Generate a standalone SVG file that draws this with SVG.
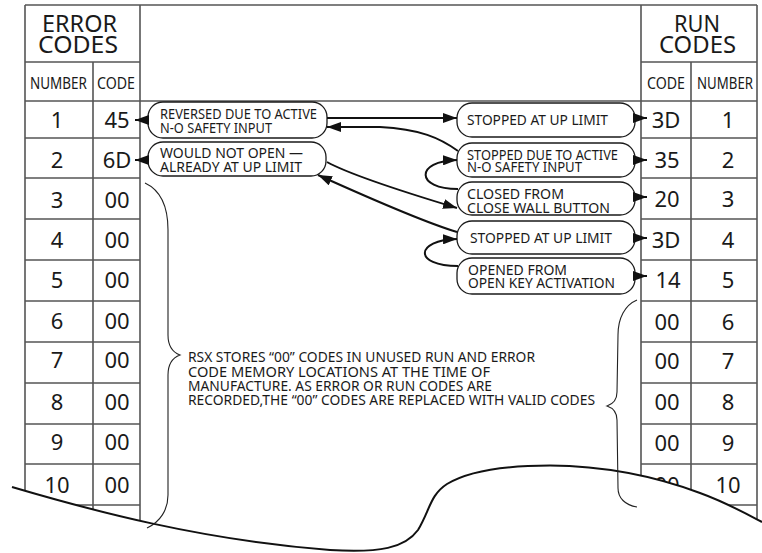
<svg xmlns="http://www.w3.org/2000/svg" width="762" height="553" viewBox="0 0 762 553">
<style>
.t{font-family:"Noto Sans","Liberation Sans",sans-serif;fill:#1a1a1a}
.num{font-size:22px;text-anchor:middle}
.hdr{font-size:24px}
.sub{font-size:16.5px}
.bt{font-size:13.5px}
.pt{font-size:14px}
.box{fill:#fff;stroke:#1a1a1a;stroke-width:1.3}
.grid{stroke:#555;stroke-width:1.6;fill:none}
.con{stroke:#111;stroke-width:2;fill:none}
.brace{stroke:#222;stroke-width:1.1;fill:none}
</style>
<defs>
<marker id="ah" markerUnits="userSpaceOnUse" markerWidth="14" markerHeight="10" refX="14" refY="5" orient="auto">
<path d="M0,0 L14,5 L0,10 z" fill="#111"/>
</marker>
</defs>
<rect width="762" height="553" fill="#fff"/>

<g id="frame" class="grid">
<path d="M25,5 H757 M25,101 H757"/>
</g>

<g id="error-table">
<g class="grid">
<path d="M25,5 V553 M93,62 V553 M140,5 V553"/>
<path d="M25,62 H140 M25,138 H140 M25,178 H140 M25,219 H140 M25,260 H140 M25,301 H140 M25,342 H140 M25,383 H140 M25,424 H140 M25,464 H140 M25,505 H140"/>
</g>
<text class="t hdr" x="42" y="32" textLength="75" lengthAdjust="spacingAndGlyphs">ERROR</text>
<text class="t hdr" x="38" y="53" textLength="80" lengthAdjust="spacingAndGlyphs">CODES</text>
<text class="t sub" x="30" y="89" textLength="57" lengthAdjust="spacingAndGlyphs">NUMBER</text>
<text class="t sub" x="97" y="89" textLength="38" lengthAdjust="spacingAndGlyphs">CODE</text>
<g class="t num">
<text x="57" y="128">1</text><text x="117" y="128">45</text>
<text x="57" y="168">2</text><text x="117" y="168">6D</text>
<text x="57" y="208">3</text><text x="117" y="208">00</text>
<text x="57" y="248">4</text><text x="117" y="248">00</text>
<text x="57" y="288">5</text><text x="117" y="288">00</text>
<text x="57" y="329">6</text><text x="117" y="329">00</text>
<text x="57" y="368">7</text><text x="117" y="368">00</text>
<text x="57" y="410">8</text><text x="117" y="410">00</text>
<text x="57" y="450">9</text><text x="117" y="450">00</text>
<text x="57" y="493">10</text><text x="117" y="493">00</text>
</g>
</g>

<g id="run-table">
<g class="grid">
<path d="M641,5 V553 M691,62 V553 M757,5 V553"/>
<path d="M641,62 H757 M641,138 H757 M641,178 H757 M641,219 H757 M641,260 H757 M641,301 H757 M641,342 H757 M641,383 H757 M641,424 H757 M641,464 H757 M641,505 H757"/>
</g>
<text class="t hdr" x="674" y="32" textLength="46" lengthAdjust="spacingAndGlyphs">RUN</text>
<text class="t hdr" x="659" y="53" textLength="77" lengthAdjust="spacingAndGlyphs">CODES</text>
<text class="t sub" x="647" y="89" textLength="38" lengthAdjust="spacingAndGlyphs">CODE</text>
<text class="t sub" x="697" y="89" textLength="56" lengthAdjust="spacingAndGlyphs">NUMBER</text>
<g class="t num">
<text x="666" y="128">3D</text><text x="728" y="128">1</text>
<text x="667" y="168">35</text><text x="728" y="168">2</text>
<text x="667" y="207">20</text><text x="728" y="207">3</text>
<text x="666" y="248">3D</text><text x="728" y="248">4</text>
<text x="668" y="288">14</text><text x="728" y="288">5</text>
<text x="667" y="330">00</text><text x="728" y="330">6</text>
<text x="667" y="369">00</text><text x="728" y="369">7</text>
<text x="667" y="410">00</text><text x="728" y="410">8</text>
<text x="667" y="451">00</text><text x="728" y="451">9</text>
<text x="667" y="493">00</text><text x="728" y="493">10</text>
</g>
</g>

<g id="box-reversed">
<rect class="box" x="148" y="102" width="179" height="36" rx="15"/>
<text class="t bt" x="160" y="119.3" textLength="157" lengthAdjust="spacingAndGlyphs">REVERSED DUE TO ACTIVE</text>
<text class="t bt" x="160" y="132.7" textLength="112" lengthAdjust="spacingAndGlyphs">N-O SAFETY INPUT</text>
</g>
<g id="box-wouldnotopen">
<rect class="box" x="148" y="142" width="178" height="34" rx="15"/>
<text class="t bt" x="160" y="158" textLength="143" lengthAdjust="spacingAndGlyphs">WOULD NOT OPEN —</text>
<text class="t bt" x="160" y="172" textLength="142" lengthAdjust="spacingAndGlyphs">ALREADY AT UP LIMIT</text>
</g>
<g id="box-run1">
<rect class="box" x="457" y="103" width="178" height="34" rx="15"/>
<text class="t bt" x="467" y="125" textLength="141" lengthAdjust="spacingAndGlyphs">STOPPED AT UP LIMIT</text>
</g>
<g id="box-run2">
<rect class="box" x="457" y="143" width="178" height="34" rx="15"/>
<text class="t bt" x="467" y="160" textLength="151" lengthAdjust="spacingAndGlyphs">STOPPED DUE TO ACTIVE</text>
<text class="t bt" x="467" y="172.3" textLength="115" lengthAdjust="spacingAndGlyphs">N-O SAFETY INPUT</text>
</g>
<g id="box-run3">
<rect class="box" x="457" y="182" width="178" height="33" rx="15"/>
<text class="t bt" x="467" y="199" textLength="97" lengthAdjust="spacingAndGlyphs">CLOSED FROM</text>
<text class="t bt" x="467" y="212.7" textLength="143" lengthAdjust="spacingAndGlyphs">CLOSE WALL BUTTON</text>
</g>
<g id="box-run4">
<rect class="box" x="457" y="221" width="178" height="33" rx="15"/>
<text class="t bt" x="470" y="243" textLength="142" lengthAdjust="spacingAndGlyphs">STOPPED AT UP LIMIT</text>
</g>
<g id="box-run5">
<rect class="box" x="457" y="258" width="178" height="36" rx="15"/>
<text class="t bt" x="468" y="275" textLength="99" lengthAdjust="spacingAndGlyphs">OPENED FROM</text>
<text class="t bt" x="468" y="288" textLength="147" lengthAdjust="spacingAndGlyphs">OPEN KEY ACTIVATION</text>
</g>

<g id="connectors" class="con" marker-end="url(#ah)">
<path d="M148,120 L135,120"/>
<path d="M148,160 L135,160"/>
<path d="M633,118 L647,118"/>
<path d="M633,160 L647,160"/>
<path d="M633,197 L647,197"/>
<path d="M633,238 L647,238"/>
<path d="M633,276 L647,276"/>
<path d="M327,118 L457,118"/>
<path d="M458,151 C440,138 420,129 380,127 L327,127"/>
<path d="M327,162 Q354,177 457,208"/>
<path d="M457,232 Q420,221 318,175"/>
<path d="M458,189 C415,189 415,161 457,160"/>
<path d="M458,266 C413,266 415,240 457,239"/>
</g>

<path id="cut-mask" d="M12,487 C90,510 200,540 330,550 C380,553 405,548 418,530 C430,510 430,495 447,484 C470,470 505,465.5 550,465.5 C610,466 660,478 700,493 C725,502 745,513 762,522 L762,553 L0,553 L0,487 Z" fill="#fff"/>
<path id="cut-line" d="M12,487 C90,510 200,540 330,550 C380,553 405,548 418,530 C430,510 430,495 447,484 C470,470 505,465.5 550,465.5 C610,466 660,478 700,493 C725,502 745,513 762,522" fill="none" stroke="#111" stroke-width="2"/>

<g id="note">
<path class="brace" d="M145,183 C160,190 168,205 168,230 L168,335 C168,346 172,352 180,355 C172,358 168,364 168,375 L168,495 C168,510 160,522 147,528"/>
<path class="brace" d="M637,300 C625,305 618,318 618,335 L617,392 C617,400 613,404 607,406 C613,408 617,412 617,420 L618,488 C618,498 625,505 637,507"/>
<text class="t pt" x="188" y="362" textLength="347" lengthAdjust="spacingAndGlyphs">RSX STORES “00” CODES IN UNUSED RUN AND ERROR</text>
<text class="t pt" x="188" y="376.5" textLength="302" lengthAdjust="spacingAndGlyphs">CODE MEMORY LOCATIONS AT THE TIME OF</text>
<text class="t pt" x="188" y="390.5" textLength="304" lengthAdjust="spacingAndGlyphs">MANUFACTURE. AS ERROR OR RUN CODES ARE</text>
<text class="t pt" x="188" y="405" textLength="407" lengthAdjust="spacingAndGlyphs">RECORDED,THE “00” CODES ARE REPLACED WITH VALID CODES</text>
</g>
</svg>
